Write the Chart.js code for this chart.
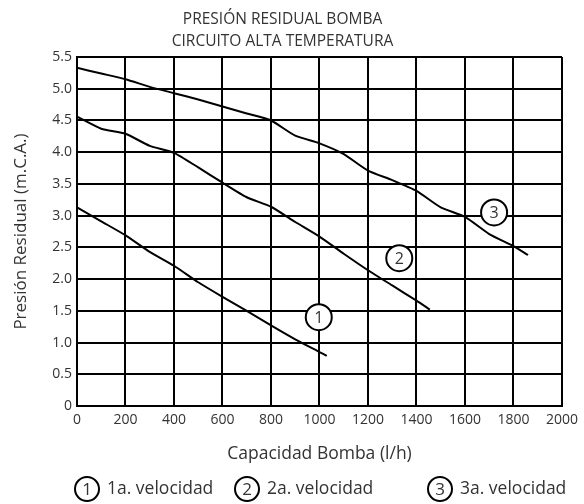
<!DOCTYPE html>
<html>
<head>
<meta charset="utf-8">
<script src="https://cdn.jsdelivr.net/npm/chart.js@4/dist/chart.umd.min.js"></script>
<style>
  html, body { margin: 0; padding: 0; background: #fff; }
  #wrap { width: 584px; height: 504px; }
</style>
</head>
<body>
<div id="wrap"><canvas id="chart" width="584" height="504"></canvas></div>
<script>
// Presión residual de la bomba, circuito alta temperatura

// Capacidad (l/h) y presión (m.C.A.) por velocidad
var cap1 = [0, 100, 200, 300, 400, 500, 600, 700, 800, 900, 1000, 1030];
var pres1 = [3.13, 2.91, 2.69, 2.43, 2.21, 1.95, 1.72, 1.50, 1.27, 1.05, 0.85, 0.79];

var cap2 = [0, 100, 200, 300, 400, 500, 600, 700, 800, 900, 1000, 1100, 1200, 1300, 1400, 1455];
var pres2 = [4.56, 4.37, 4.29, 4.10, 3.99, 3.76, 3.52, 3.29, 3.14, 2.90, 2.67, 2.40, 2.14, 1.90, 1.66, 1.52];

var cap3 = [0, 100, 200, 300, 400, 500, 600, 700, 800, 900, 1000, 1100, 1200, 1300, 1400, 1500, 1600, 1700, 1800, 1860];
var pres3 = [5.33, 5.24, 5.15, 5.03, 4.93, 4.83, 4.72, 4.61, 4.50, 4.26, 4.14, 3.97, 3.71, 3.56, 3.39, 3.13, 2.98, 2.71, 2.52, 2.38];

// numero dentro del circulo, y donde va sobre cada curva
var curveNums = ["1", "2", "3"];
var curveLabelX = [997, 1329, 1720];
var curveLabelY = [1.40, 2.33, 3.05];

var legendTexts = ["1a. velocidad", "2a. velocidad", "3a. velocidad"];

var titleLines = ["PRESIÓN RESIDUAL BOMBA", "CIRCUITO ALTA TEMPERATURA"];
var xTitle = "Capacidad Bomba (l/h)";
var yTitle = "Presión Residual (m.C.A.)";

var FONT = "'Open Sans', sans-serif";
var INK = "#000";
var TXT = "#333";

function toPoints(xs, ys) {
  var out = [];
  for (var i = 0; i < xs.length; i++) {
    out.push({ x: xs[i], y: ys[i] });
  }
  return out;
}

function lineSet(label, xs, ys) {
  return {
    label: label,
    data: toPoints(xs, ys),
    borderColor: INK,
    borderWidth: 2,
    pointRadius: 0,
    tension: 0.2,
    fill: false
  };
}

function circleNum(ctx, x, y, r, num, size) {
  ctx.beginPath();
  ctx.arc(x, y, r, 0, Math.PI * 2);
  ctx.fillStyle = "#fff";
  ctx.fill();
  ctx.lineWidth = 2;
  ctx.strokeStyle = INK;
  ctx.stroke();
  ctx.fillStyle = TXT;
  ctx.font = size + "px " + FONT;
  ctx.textAlign = "center";
  ctx.textBaseline = "middle";
  ctx.fillText(num, x, y + 1);
}

// circulos numerados sobre las curvas y leyenda de abajo
var markersPlugin = {
  id: "markers",
  afterDatasetsDraw: function(chart) {
    var ctx = chart.ctx;
    var xs = chart.scales.x, ys = chart.scales.y;
    ctx.save();
    for (var i = 0; i < curveNums.length; i++) {
      circleNum(ctx, xs.getPixelForValue(curveLabelX[i]), ys.getPixelForValue(curveLabelY[i]), 13, curveNums[i], 16);
    }
    ctx.restore();
  },
  afterDraw: function(chart, args, opts) {
    var ctx = chart.ctx;
    ctx.save();
    for (var i = 0; i < legendTexts.length; i++) {
      var cx = opts.circleX[i];
      circleNum(ctx, cx, opts.y, 12, curveNums[i], 17);
      ctx.fillStyle = TXT;
      ctx.font = "17.5px " + FONT;
      ctx.textAlign = "left";
      ctx.textBaseline = "middle";
      ctx.fillText(legendTexts[i], cx + 20, opts.y);
    }
    ctx.restore();
  }
};

var ctx = document.getElementById("chart").getContext("2d");
var chart = new Chart(ctx, {
  type: "line",
  data: {
    datasets: [
      lineSet(legendTexts[0], cap1, pres1),
      lineSet(legendTexts[1], cap2, pres2),
      lineSet(legendTexts[2], cap3, pres3)
    ]
  },
  plugins: [markersPlugin],
  options: {
    responsive: false,
    animation: false,
    layout: { padding: { left: 0, right: 19, top: 0, bottom: 38 } },
    plugins: {
      legend: { display: false },
      tooltip: { enabled: false },
      title: {
        display: true,
        text: titleLines,
        color: TXT,
        font: { family: FONT, size: 15.5, weight: "normal", lineHeight: 1.42 },
        padding: { top: 9, bottom: 4 },
        align: "center"
      },
      markers: { circleX: [87, 247, 440], y: 489 }
    },
    scales: {
      x: {
        type: "linear",
        min: 0,
        max: 2000,
        afterFit: function(s) { s.height = 60; },
        ticks: {
          stepSize: 200,
          color: TXT,
          font: { family: FONT, size: 14 },
          padding: 6,
          maxRotation: 0,
          callback: function(v) { return String(v); }
        },
        grid: { color: INK, lineWidth: 2, drawTicks: false },
        border: { display: true, color: INK, width: 2 },
        title: {
          display: true,
          text: xTitle,
          color: TXT,
          font: { family: FONT, size: 17.5 },
          padding: { top: 0, bottom: 1 }
        }
      },
      y: {
        type: "linear",
        min: 0,
        max: 5.5,
        afterFit: function(s) { s.width = 77; },
        ticks: {
          stepSize: 0.5,
          color: TXT,
          font: { family: FONT, size: 14 },
          padding: 5,
          callback: function(v) { return v === 0 ? "0" : v.toFixed(1); }
        },
        grid: { color: INK, lineWidth: 2, drawTicks: false },
        border: { display: true, color: INK, width: 2 },
        title: {
          display: true,
          text: yTitle,
          color: TXT,
          font: { family: FONT, size: 17 },
          padding: { top: 11, bottom: 0 }
        }
      }
    }
  }
});
</script>
</body>
</html>
